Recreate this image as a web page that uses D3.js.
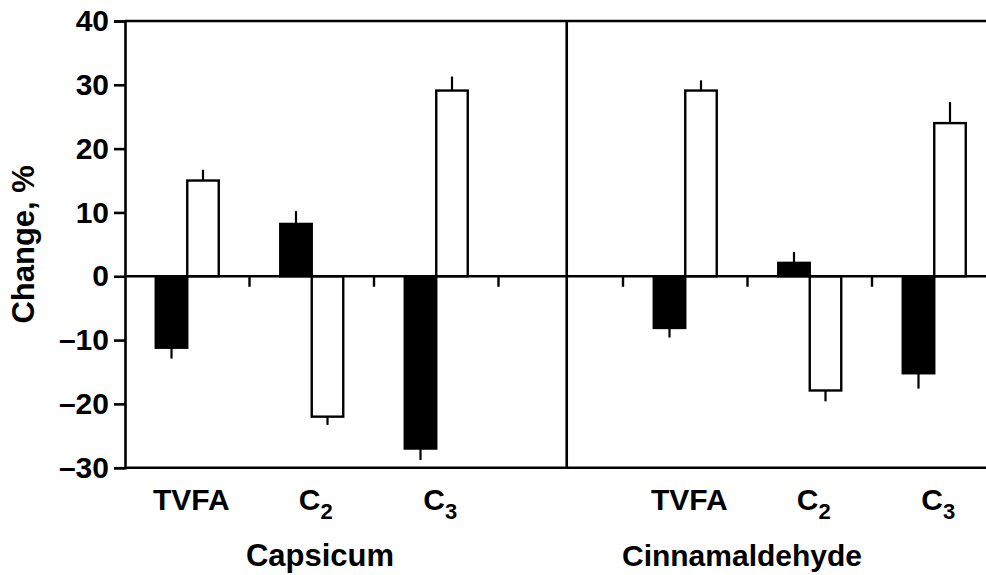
<!DOCTYPE html>
<html>
<head>
<meta charset="utf-8">
<script src="https://cdn.jsdelivr.net/npm/d3@7"></script>
<style>
  body { margin: 0; background: #fff; }
  svg { display: block; font-family: "Liberation Sans", Arial, sans-serif; font-weight: bold; }
</style>
</head>
<body>
<div class="container"></div>
<script>
var w = 986;
var h = 575;

// categories along x (one empty slot between the two additives)
const slots = ["cap-TVFA", "cap-C2", "cap-C3", "gap", "cin-TVFA", "cin-C2", "cin-C3"];
const catNames = ["TVFA", "C2", "C3"];
const groups = ["Capsicum", "Cinnamaldehyde"];

// black bars / white bars, values and error (SE)
const capsicumBlack = [-11.2, 8.2, -27.0];
const capsicumBlackErr = [1.7, 2.0, 1.8];
const capsicumWhite = [15.0, -22.0, 29.1];
const capsicumWhiteErr = [1.7, 1.3, 2.2];
const cinnBlack = [-8.1, 2.1, -15.2];
const cinnBlackErr = [1.5, 1.7, 2.4];
const cinnWhite = [29.1, -17.9, 24.0];
const cinnWhiteErr = [1.6, 1.7, 3.3];

const yTicks = [-30, -20, -10, 0, 10, 20, 30, 40];

// build rows for drawing
var bars = [];
catNames.forEach((c, i) => {
  bars.push({ slot: slots[i], side: 0, v: capsicumBlack[i], e: capsicumBlackErr[i] });
  bars.push({ slot: slots[i], side: 1, v: capsicumWhite[i], e: capsicumWhiteErr[i] });
  bars.push({ slot: slots[i + 4], side: 0, v: cinnBlack[i], e: cinnBlackErr[i] });
  bars.push({ slot: slots[i + 4], side: 1, v: cinnWhite[i], e: cinnWhiteErr[i] });
});

var plotLeft = 125, plotRight = 996.5, plotTop = 21, plotBottom = 467.7;

var svg = d3.select(".container")
  .append("svg")
  .attr("width", w)
  .attr("height", h);

var xScale = d3.scaleBand().domain(slots).range([plotLeft, plotRight]).padding(0);
var yScale = d3.scaleLinear().domain([-30, 40]).range([plotBottom, plotTop]);

var bw = xScale.bandwidth() * 0.253;
var center = d => xScale(d.slot) + xScale.bandwidth() / 2;

// error bars (drawn first so bar outlines sit on top)
svg.append("g")
  .selectAll("line")
  .data(bars)
  .enter()
  .append("line")
  .attr("x1", d => center(d) + (d.side === 0 ? -bw / 2 : bw / 2))
  .attr("x2", d => center(d) + (d.side === 0 ? -bw / 2 : bw / 2))
  .attr("y1", d => yScale(d.v))
  .attr("y2", d => yScale(d.v + (d.v < 0 ? -d.e : d.e)))
  .attr("stroke", "#000")
  .attr("stroke-width", 2.2);

// bars
svg.append("g")
  .selectAll("rect")
  .data(bars)
  .enter()
  .append("rect")
  .attr("x", d => center(d) + (d.side === 0 ? -bw : 0))
  .attr("y", d => yScale(Math.max(0, d.v)))
  .attr("width", bw)
  .attr("height", d => Math.abs(yScale(d.v) - yScale(0)))
  .attr("fill", d => d.side === 0 ? "#000" : "#fff")
  .attr("stroke", "#000")
  .attr("stroke-width", 2.4);

// frame: top, bottom, zero line, divider
var frame = svg.append("g").attr("stroke", "#000").attr("stroke-width", 2.6);
frame.append("line").attr("x1", plotLeft).attr("x2", w).attr("y1", plotTop).attr("y2", plotTop);
frame.append("line").attr("x1", plotLeft).attr("x2", w).attr("y1", plotBottom).attr("y2", plotBottom);
frame.append("line").attr("x1", plotLeft).attr("x2", w).attr("y1", yScale(0)).attr("y2", yScale(0));
var divX = xScale("gap") + xScale.bandwidth() * 0.548;
frame.append("line").attr("x1", divX).attr("x2", divX).attr("y1", plotTop).attr("y2", plotBottom);

// small ticks between categories, hanging below the zero line
svg.append("g")
  .selectAll("line")
  .data(slots.slice(1))
  .enter()
  .append("line")
  .attr("x1", d => xScale(d))
  .attr("x2", d => xScale(d))
  .attr("y1", yScale(0))
  .attr("y2", yScale(0) + 10.5)
  .attr("stroke", "#000")
  .attr("stroke-width", 2.4);

// y axis
var y_axis = d3.axisLeft(yScale).tickValues(yTicks).tickSize(11).tickPadding(5)
  .tickFormat(d => d < 0 ? "\u2013" + Math.abs(d) : d);
var ya = svg.append("g")
  .attr("transform", "translate(" + plotLeft + ",0)")
  .call(y_axis);
ya.select(".domain").attr("stroke-width", 2.6);
ya.selectAll(".tick line").attr("stroke-width", 2.6);
ya.selectAll("text")
  .attr("font-size", 30)
  .attr("font-weight", "bold")
  .attr("font-family", "Liberation Sans, Arial, sans-serif")
  .attr("fill", "#000");

// category labels
var labelSlots = slots.filter(s => s !== "gap");
var labs = svg.append("g")
  .selectAll("text")
  .data(labelSlots)
  .enter()
  .append("text")
  .attr("x", d => xScale(d) + xScale.bandwidth() / 2 + 4)
  .attr("y", 510)
  .attr("text-anchor", "middle")
  .attr("font-size", 30);
labs.each(function (d) {
  var name = d.split("-")[1];
  var t = d3.select(this);
  if (name === "TVFA") {
    t.text("TVFA");
  } else {
    t.append("tspan").text("C");
    t.append("tspan").attr("font-size", 22).attr("dy", 9).text(name.slice(1));
  }
});

// additive labels
svg.append("text")
  .attr("x", 320)
  .attr("y", 566)
  .attr("text-anchor", "middle")
  .attr("font-size", 31)
  .text(groups[0]);
svg.append("text")
  .attr("x", 742)
  .attr("y", 566)
  .attr("text-anchor", "middle")
  .attr("font-size", 30)
  .text(groups[1]);

// y label
svg.append("text")
  .attr("transform", "translate(34," + ((plotTop + plotBottom) / 2) + ") rotate(-90)")
  .attr("text-anchor", "middle")
  .attr("font-size", 31)
  .text("Change, %");
</script>
</body>
</html>
